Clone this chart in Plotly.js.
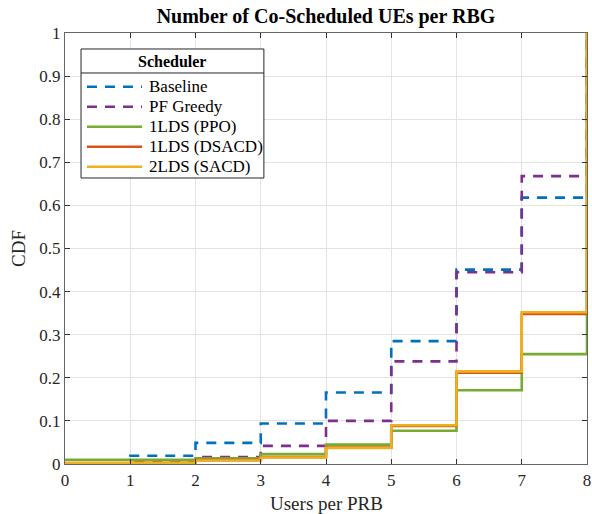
<!DOCTYPE html>
<html>
<head>
<meta charset="utf-8">
<script src="https://cdn.plot.ly/plotly-3.0.1.min.js"></script>
<style>html,body{margin:0;padding:0;background:#fff;}#chart{width:592px;height:514px;}</style>
</head>
<body>
<div id="chart"></div>
<script>
const usersPerPRB = [0, 1, 2, 3, 4, 5, 6, 7, 8];
const seriesNames = ["Baseline", "PF Greedy", "1LDS (PPO)", "1LDS (DSACD)", "2LDS (SACD)"];
const baseline   = [0.001, 0.019, 0.049, 0.094, 0.166, 0.285, 0.451, 0.618, 1];
const pfGreedy   = [0.000, 0.006, 0.016, 0.042, 0.100, 0.238, 0.445, 0.668, 1];
const ldsPPO     = [0.010, 0.010, 0.013, 0.023, 0.045, 0.077, 0.171, 0.255, 1];
const ldsDSACD   = [0.002, 0.003, 0.009, 0.016, 0.038, 0.088, 0.212, 0.348, 1];
const ldsSACD    = [0.002, 0.003, 0.008, 0.015, 0.037, 0.090, 0.215, 0.352, 1];
const seriesValues = [baseline, pfGreedy, ldsPPO, ldsDSACD, ldsSACD];
const colors = ["#0072BD", "#7E2F8E", "#77AC30", "#D95319", "#EDB120"];
const dashes = ["10px,8px", "10px,8px", "solid", "solid", "solid"];
const legendTitle = "Scheduler";
const xTitle = "Users per PRB";

const traces = seriesValues.map((vals, i) => ({
  x: usersPerPRB,
  y: vals,
  name: seriesNames[i],
  type: "scatter",
  mode: "lines",
  showlegend: false,
  line: {shape: "hv", color: colors[i], width: 2.6, dash: dashes[i]}
}));

const font = "Liberation Serif, Times New Roman, serif";

// Legend box drawn with paper-referenced shapes and annotations
const lg = {x0: 0.0307, x1: 0.381, y0: 0.6636, y1: 0.9629, sep: 0.9072, titleY: 0.935,
            firstY: 0.8754, step: 0.0464, sx0: 0.0421, sx1: 0.1475, tx: 0.157};
const shapes = [
  {type: "rect", xref: "paper", yref: "paper", x0: lg.x0, x1: lg.x1, y0: lg.y0, y1: lg.y1,
   fillcolor: "#fff", line: {color: "#262626", width: 1}, layer: "above"},
  {type: "line", xref: "paper", yref: "paper", x0: lg.x0, x1: lg.x1, y0: lg.sep, y1: lg.sep,
   line: {color: "#262626", width: 1}, layer: "above"}
];
const annotations = [
  {xref: "paper", yref: "paper", x: (lg.x0 + lg.x1) / 2, y: lg.titleY, xanchor: "center", yanchor: "middle",
   text: "<b>" + legendTitle + "</b>", showarrow: false, font: {family: font, size: 16, color: "#000"}},
  {xref: "paper", yref: "paper", x: 0.5, y: -0.091, xanchor: "center", yanchor: "middle",
   text: xTitle, showarrow: false, font: {family: font, size: 19, color: "#262626"}}
];
seriesNames.forEach((name, i) => {
  const yy = lg.firstY - i * lg.step;
  shapes.push({type: "line", xref: "paper", yref: "paper", x0: lg.sx0, x1: lg.sx1, y0: yy, y1: yy,
    line: {color: colors[i], width: 2.6, dash: dashes[i]}, layer: "above"});
  annotations.push({xref: "paper", yref: "paper", x: lg.tx, y: yy, xanchor: "left", yanchor: "middle",
    text: name, showarrow: false, font: {family: font, size: 17, color: "#000"}});
});

const layout = {
  width: 592, height: 514,
  margin: {l: 65, r: 5, t: 33, b: 50},
  paper_bgcolor: "#fff", plot_bgcolor: "#fff",
  font: {family: font, size: 16, color: "#262626"},
  title: {text: "<b>Number of Co-Scheduled UEs per RBG</b>", font: {family: font, size: 20, color: "#000"},
          xref: "paper", x: 0.5, xanchor: "center", y: 0.982, yanchor: "top"},
  xaxis: {
    range: [0, 8], dtick: 1, tick0: 0,
    showgrid: true, gridcolor: "#e3e3e3", gridwidth: 1,
    showline: true, linecolor: "#666", linewidth: 1.2, mirror: "ticks",
    ticks: "inside", ticklen: 5, tickcolor: "#333",
    zeroline: false,
    tickfont: {family: font, size: 17, color: "#262626"}
  },
  yaxis: {
    range: [0, 1], dtick: 0.1, tick0: 0,
    showgrid: true, gridcolor: "#e3e3e3", gridwidth: 1,
    showline: true, linecolor: "#666", linewidth: 1.2, mirror: "ticks",
    ticks: "inside", ticklen: 5, tickcolor: "#333",
    zeroline: false,
    tickfont: {family: font, size: 17, color: "#262626"},
    title: {text: "CDF", font: {family: font, size: 19, color: "#262626"}, standoff: 8}
  },
  showlegend: false,
  shapes: shapes,
  annotations: annotations
};

Plotly.newPlot("chart", traces, layout, {displayModeBar: false, staticPlot: true});
</script>
</body>
</html>
